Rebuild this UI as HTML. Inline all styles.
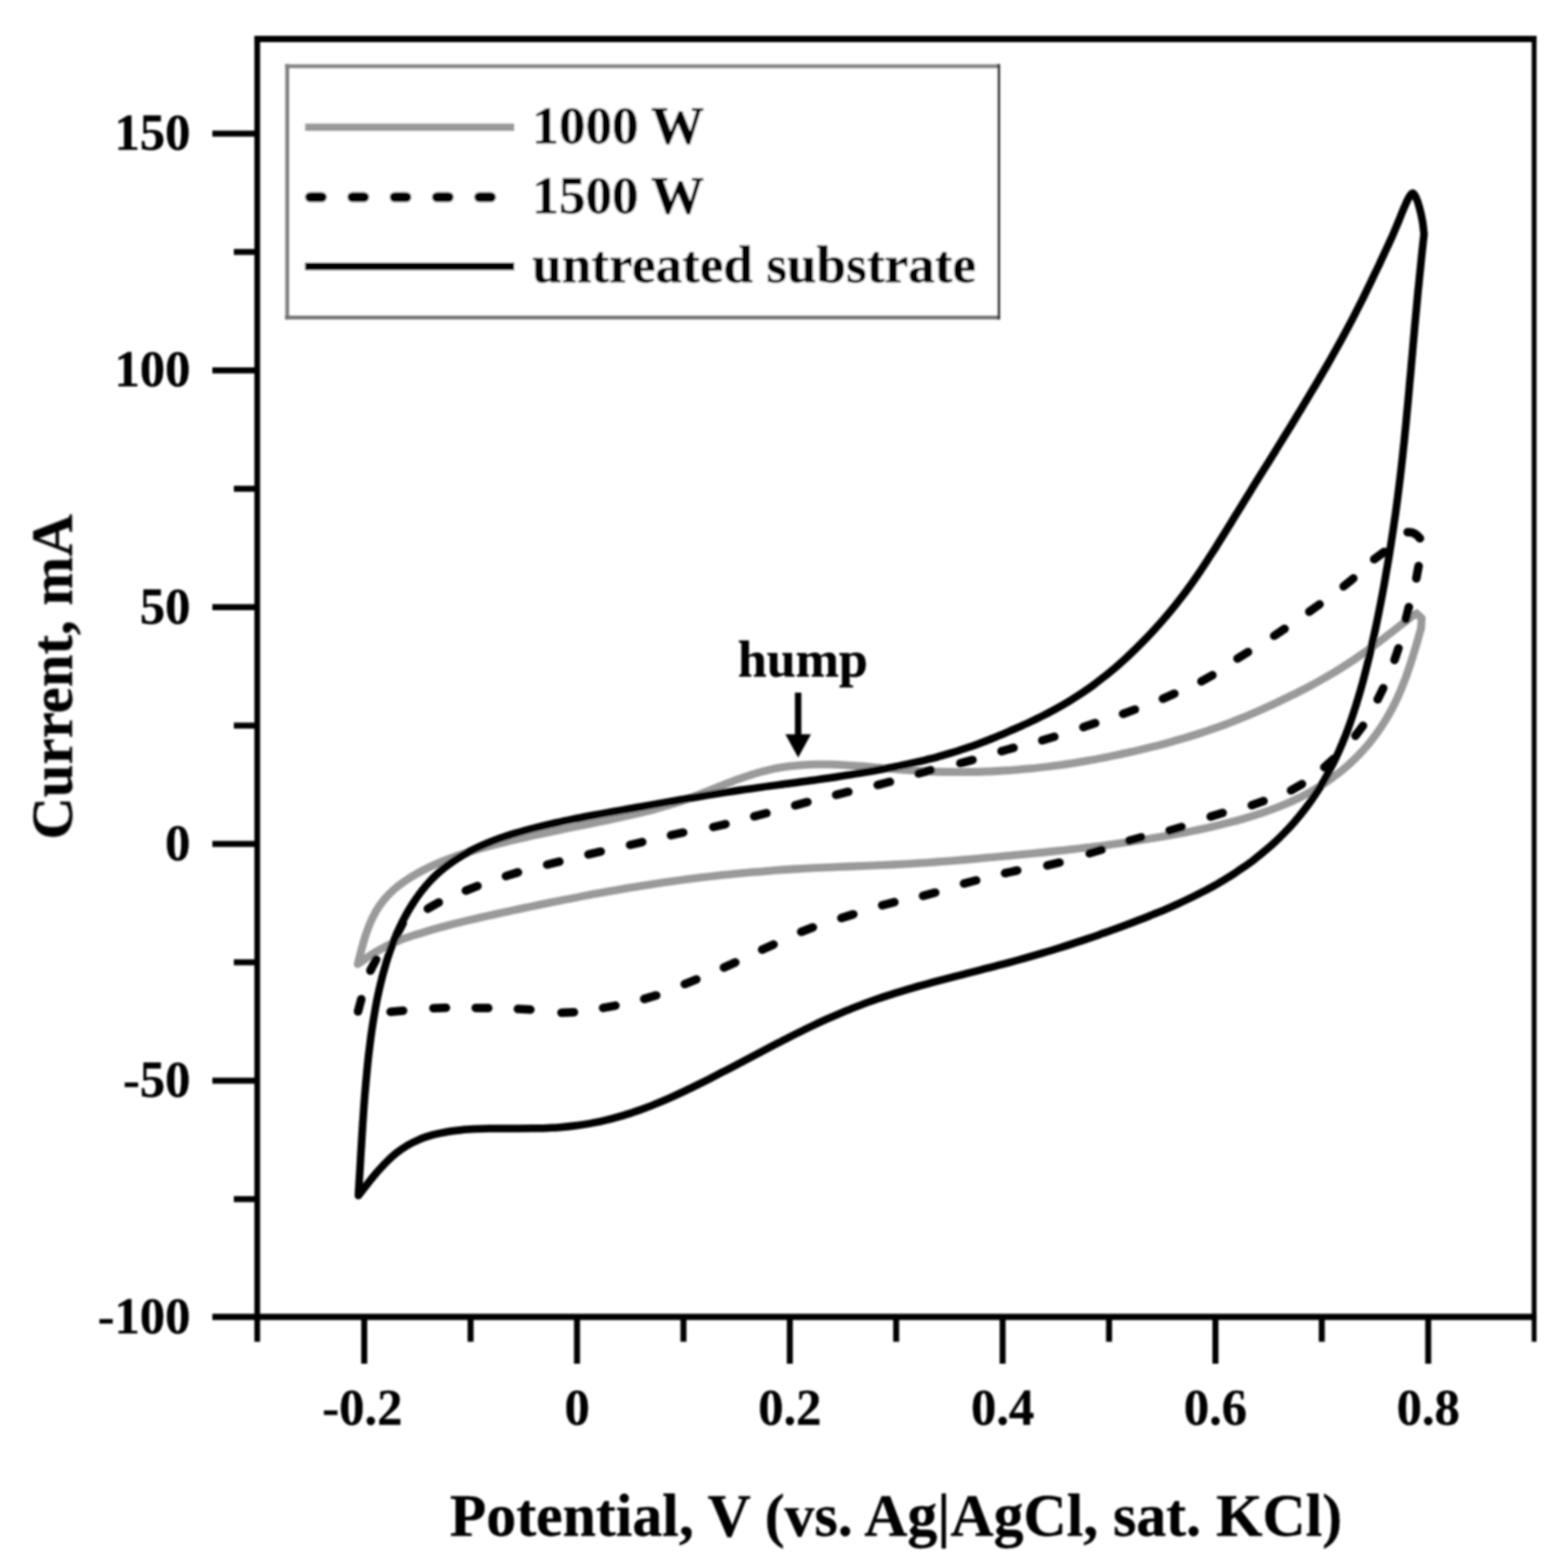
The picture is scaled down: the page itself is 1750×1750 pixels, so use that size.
<!DOCTYPE html>
<html lang="en">
<head>
<meta charset="utf-8">
<title>Cyclic voltammograms</title>
<style>
html,body{margin:0;padding:0;background:#fff;}
body{width:1750px;height:1750px;overflow:hidden;}
svg{display:block;}
text{font-family:"Liberation Serif","Times New Roman",serif;font-weight:bold;fill:#000;stroke:#000;stroke-width:0.35px;stroke-linejoin:round;}
</style>
</head>
<body>
<svg xmlns="http://www.w3.org/2000/svg" width="1750" height="1750" viewBox="0 0 1750 1750">
<defs><filter id="soft" x="0" y="0" width="1750" height="1750" filterUnits="userSpaceOnUse"><feGaussianBlur stdDeviation="1.0"/></filter></defs>
<rect x="0" y="0" width="1750" height="1750" fill="#fff"/>
<g filter="url(#soft)">
<!-- axes frame and ticks -->
<g fill="none" stroke="#000" stroke-width="6.7" stroke-linecap="butt">
<path d="M287.1,40.0 V1497.5" stroke-width="6.4"/>
<path d="M1712.2,40.0 V1497.5" stroke-width="5.4"/>
<path d="M283.9,43.5 H1714.9" stroke-width="7.0"/>
<path d="M237.0,1469.7 H1714.9" stroke-width="6.9"/>
<path d="M237.0,149.1 H287.1"/>
<path d="M237.0,413.4 H287.1"/>
<path d="M237.0,677.6 H287.1"/>
<path d="M237.0,941.9 H287.1"/>
<path d="M237.0,1206.2 H287.1"/>
<path d="M261.0,281.2 H287.1"/>
<path d="M261.0,545.5 H287.1"/>
<path d="M261.0,809.8 H287.1"/>
<path d="M261.0,1074.0 H287.1"/>
<path d="M261.0,1338.3 H287.1"/>
<path d="M406.5,1469.7 V1522.0"/>
<path d="M644.0,1469.7 V1522.0"/>
<path d="M881.5,1469.7 V1522.0"/>
<path d="M1119.0,1469.7 V1522.0"/>
<path d="M1356.5,1469.7 V1522.0"/>
<path d="M1594.0,1469.7 V1522.0"/>
<path d="M525.2,1469.7 V1497.5"/>
<path d="M762.8,1469.7 V1497.5"/>
<path d="M1000.2,1469.7 V1497.5"/>
<path d="M1237.8,1469.7 V1497.5"/>
<path d="M1475.2,1469.7 V1497.5"/>
</g>
<!-- tick labels -->
<g font-size="56.5" text-anchor="end">
<text x="212.6" y="167.1">150</text>
<text x="212.6" y="431.4">100</text>
<text x="212.6" y="695.6">50</text>
<text x="212.6" y="959.9">0</text>
<text x="212.6" y="1224.2">-50</text>
<text x="212.6" y="1488.4">-100</text>
</g>
<g font-size="56.5" text-anchor="middle">
<text x="404.5" y="1589.5">-0.2</text>
<text x="644.0" y="1589.5">0</text>
<text x="881.5" y="1589.5">0.2</text>
<text x="1119.0" y="1589.5">0.4</text>
<text x="1356.5" y="1589.5">0.6</text>
<text x="1594.0" y="1589.5">0.8</text>
</g>
<!-- axis titles -->
<text x="1000.0" y="1714.0" font-size="66.7" text-anchor="middle">Potential, V (vs. Ag|AgCl, sat. KCl)</text>
<text transform="translate(80.2,755.5) rotate(-90)" font-size="65.6" text-anchor="middle">Current, mA</text>
<!-- data curves -->
<g fill="none" stroke-linecap="round" stroke-linejoin="round">
<path stroke="#9a9a9a" stroke-width="8.8" d="M399.3,1076.0 C400.0,1073.4 401.9,1065.5 403.3,1060.4 C404.7,1055.2 406.1,1050.0 407.7,1044.9 C409.4,1039.9 411.1,1034.9 413.1,1030.1 C415.2,1025.3 417.5,1020.6 420.1,1016.2 C422.8,1011.8 425.7,1007.5 429.0,1003.6 C432.2,999.7 435.8,996.1 439.7,992.7 C443.5,989.3 447.6,986.2 451.9,983.3 C456.2,980.3 460.6,977.6 465.2,975.1 C469.7,972.5 474.4,970.1 479.2,967.8 C483.9,965.6 488.8,963.4 493.7,961.4 C498.7,959.4 503.7,957.5 508.7,955.7 C513.8,953.9 518.9,952.2 524.0,950.6 C529.2,949.0 534.4,947.5 539.6,946.1 C544.7,944.6 550.0,943.2 555.2,941.9 C560.4,940.5 565.7,939.3 570.9,938.0 C576.2,936.8 581.4,935.5 586.7,934.4 C591.9,933.2 597.2,932.0 602.4,930.9 C607.7,929.8 613.0,928.7 618.2,927.6 C623.5,926.5 628.7,925.4 634.0,924.3 C639.2,923.2 644.5,922.2 649.7,921.1 C655.0,920.1 660.2,919.0 665.4,917.9 C670.7,916.8 675.9,915.8 681.1,914.6 C686.4,913.5 691.6,912.4 696.8,911.3 C702.0,910.1 707.2,908.9 712.4,907.7 C717.5,906.5 722.7,905.2 727.9,903.9 C733.0,902.5 738.1,901.1 743.2,899.6 C748.3,898.1 753.4,896.5 758.5,894.8 C763.5,893.1 768.5,891.3 773.5,889.4 C778.5,887.5 783.4,885.5 788.4,883.5 C793.3,881.6 798.3,879.5 803.2,877.6 C808.2,875.6 813.2,873.7 818.1,871.8 C823.1,870.0 828.1,868.1 833.1,866.4 C838.2,864.8 843.2,863.2 848.3,861.8 C853.4,860.4 858.5,859.1 863.7,858.0 C868.8,856.9 874.0,856.1 879.3,855.4 C884.5,854.6 889.8,854.1 895.0,853.8 C900.3,853.4 905.6,853.2 910.9,853.1 C916.2,853.0 921.5,853.1 926.8,853.2 C932.1,853.3 937.4,853.6 942.7,853.9 C948.1,854.2 953.4,854.6 958.7,855.0 C964.1,855.4 969.4,855.8 974.7,856.3 C980.1,856.7 985.4,857.2 990.7,857.7 C996.1,858.2 1001.4,858.6 1006.7,859.0 C1012.1,859.4 1017.4,859.8 1022.8,860.2 C1028.1,860.5 1033.4,860.8 1038.8,861.0 C1044.1,861.2 1049.5,861.4 1054.8,861.5 C1060.2,861.6 1065.5,861.6 1070.8,861.6 C1076.2,861.6 1081.5,861.6 1086.9,861.5 C1092.2,861.4 1097.5,861.2 1102.9,861.0 C1108.2,860.8 1113.5,860.5 1118.9,860.2 C1124.2,859.9 1129.5,859.5 1134.8,859.1 C1140.2,858.7 1145.5,858.2 1150.8,857.7 C1156.1,857.2 1161.4,856.6 1166.7,856.0 C1172.0,855.3 1177.3,854.6 1182.6,853.9 C1187.9,853.2 1193.2,852.4 1198.5,851.6 C1203.7,850.7 1209.0,849.8 1214.3,848.9 C1219.5,848.0 1224.8,847.0 1230.0,846.0 C1235.3,845.0 1240.5,843.9 1245.7,842.8 C1251.0,841.7 1256.2,840.6 1261.4,839.4 C1266.6,838.3 1271.8,837.0 1277.0,835.8 C1282.2,834.5 1287.4,833.2 1292.6,831.9 C1297.8,830.6 1302.9,829.2 1308.1,827.7 C1313.2,826.3 1318.3,824.8 1323.5,823.3 C1328.6,821.8 1333.7,820.2 1338.7,818.5 C1343.8,816.9 1348.9,815.2 1353.9,813.4 C1359.0,811.7 1364.0,809.8 1369.0,808.0 C1374.0,806.1 1378.9,804.1 1383.9,802.2 C1388.9,800.2 1393.8,798.1 1398.7,796.0 C1403.6,793.9 1408.5,791.8 1413.4,789.6 C1418.2,787.4 1423.1,785.1 1427.9,782.8 C1432.7,780.5 1437.5,778.2 1442.3,775.8 C1447.1,773.5 1451.9,771.0 1456.6,768.6 C1461.3,766.1 1466.0,763.5 1470.7,761.0 C1475.3,758.4 1480.0,755.7 1484.6,753.0 C1489.2,750.3 1493.7,747.5 1498.2,744.7 C1502.7,741.9 1507.2,739.0 1511.6,736.0 C1516.0,733.0 1520.4,730.0 1524.7,726.9 C1529.1,723.8 1533.4,720.6 1537.7,717.4 C1542.0,714.3 1546.2,711.0 1550.4,707.8 C1554.7,704.5 1558.9,701.2 1563.1,697.9 C1567.3,694.6 1573.6,689.7 1575.7,688.0 L1581.0,684.6 L1586.7,690.0 L1585.9,701.4 C1585.2,704.0 1583.0,711.8 1581.5,716.9 C1580.0,722.1 1578.5,727.2 1576.9,732.3 C1575.3,737.4 1573.7,742.6 1571.9,747.6 C1570.2,752.7 1568.4,757.7 1566.4,762.6 C1564.5,767.6 1562.5,772.5 1560.3,777.3 C1558.1,782.1 1555.8,786.9 1553.3,791.6 C1550.8,796.2 1548.2,800.8 1545.4,805.3 C1542.6,809.8 1539.7,814.2 1536.6,818.5 C1533.5,822.7 1530.3,826.9 1526.9,831.0 C1523.5,835.0 1519.9,838.9 1516.3,842.7 C1512.6,846.5 1508.8,850.1 1504.9,853.7 C1500.9,857.2 1496.9,860.6 1492.7,863.8 C1488.5,867.0 1484.2,870.2 1479.9,873.1 C1475.5,876.1 1471.0,878.9 1466.4,881.6 C1461.9,884.3 1457.2,886.8 1452.4,889.2 C1447.7,891.6 1442.9,893.8 1438.0,896.0 C1433.2,898.1 1428.2,900.1 1423.2,902.0 C1418.3,903.9 1413.2,905.7 1408.2,907.4 C1403.1,909.1 1398.0,910.7 1392.9,912.2 C1387.8,913.8 1382.6,915.2 1377.5,916.6 C1372.3,918.0 1367.1,919.3 1361.9,920.6 C1356.7,921.8 1351.5,923.0 1346.3,924.2 C1341.1,925.3 1335.8,926.4 1330.6,927.5 C1325.4,928.5 1320.1,929.6 1314.9,930.5 C1309.6,931.5 1304.4,932.5 1299.1,933.4 C1293.9,934.3 1288.6,935.2 1283.3,936.0 C1278.1,936.9 1272.8,937.7 1267.5,938.5 C1262.3,939.3 1257.0,940.1 1251.7,940.9 C1246.4,941.6 1241.2,942.4 1235.9,943.1 C1230.6,943.8 1225.3,944.5 1220.0,945.1 C1214.7,945.8 1209.5,946.4 1204.2,947.0 C1198.9,947.6 1193.6,948.2 1188.3,948.8 C1183.0,949.4 1177.7,949.9 1172.4,950.5 C1167.1,951.0 1161.8,951.5 1156.5,952.1 C1151.2,952.6 1145.9,953.1 1140.6,953.6 C1135.2,954.1 1129.9,954.7 1124.6,955.2 C1119.3,955.7 1114.0,956.2 1108.7,956.7 C1103.4,957.1 1098.1,957.6 1092.8,958.1 C1087.5,958.6 1082.2,959.0 1076.9,959.5 C1071.5,959.9 1066.2,960.4 1060.9,960.8 C1055.6,961.2 1050.3,961.6 1045.0,962.0 C1039.7,962.4 1034.3,962.7 1029.0,963.1 C1023.7,963.4 1018.4,963.8 1013.1,964.1 C1007.7,964.4 1002.4,964.7 997.1,965.0 C991.8,965.2 986.4,965.5 981.1,965.7 C975.8,966.0 970.5,966.2 965.1,966.4 C959.8,966.6 954.5,966.8 949.2,967.0 C943.8,967.2 938.5,967.4 933.2,967.6 C927.9,967.9 922.6,968.1 917.2,968.3 C911.9,968.6 906.6,968.8 901.3,969.1 C895.9,969.4 890.6,969.7 885.3,970.0 C880.0,970.3 874.7,970.7 869.4,971.0 C864.1,971.4 858.7,971.8 853.4,972.3 C848.1,972.7 842.8,973.1 837.5,973.6 C832.2,974.1 826.9,974.6 821.6,975.1 C816.3,975.6 811.0,976.1 805.7,976.7 C800.4,977.3 795.1,977.9 789.8,978.5 C784.5,979.1 779.2,979.8 773.9,980.4 C768.6,981.1 763.4,981.8 758.1,982.5 C752.8,983.2 747.5,984.0 742.2,984.7 C737.0,985.5 731.7,986.3 726.4,987.1 C721.2,987.9 715.9,988.7 710.6,989.6 C705.4,990.4 700.1,991.3 694.9,992.2 C689.6,993.1 684.4,994.0 679.1,994.9 C673.9,995.8 668.6,996.8 663.4,997.7 C658.1,998.7 652.9,999.7 647.7,1000.7 C642.4,1001.7 637.2,1002.7 632.0,1003.8 C626.7,1004.8 621.5,1005.9 616.3,1006.9 C611.1,1008.0 605.8,1009.1 600.6,1010.1 C595.4,1011.2 590.1,1012.3 584.9,1013.4 C579.7,1014.5 574.5,1015.6 569.2,1016.7 C564.0,1017.8 558.8,1019.0 553.5,1020.1 C548.3,1021.2 543.1,1022.4 537.9,1023.6 C532.7,1024.8 527.5,1026.0 522.3,1027.2 C517.1,1028.4 511.9,1029.7 506.8,1031.0 C501.6,1032.4 496.5,1033.7 491.4,1035.1 C486.2,1036.5 481.1,1038.0 476.1,1039.5 C471.0,1041.0 465.9,1042.5 460.9,1044.2 C455.9,1045.8 450.9,1047.5 446.1,1049.4 C441.2,1051.4 436.4,1053.4 431.8,1055.7 C427.2,1058.0 422.7,1060.5 418.4,1063.1 C414.0,1065.8 408.7,1069.4 405.6,1071.6 C402.4,1073.7 400.3,1075.3 399.3,1076.0"/>
<path stroke="#000" stroke-width="9.5" d="M399.6,1128.8 L403.2,1115.2 M413.4,1083.2 L419.8,1070.8 M443.1,1042.7 L449.5,1030.3 M477.5,1014.2 L489.7,1007.2 M519.9,994.0 L532.9,988.8 M564.7,977.8 L578.1,973.6 M610.7,965.0 L624.3,961.6 M656.8,953.6 L670.4,950.4 M703.2,943.0 L716.8,939.8 M748.9,932.2 L762.5,929.2 M796.1,923.0 L809.7,919.8 M841.8,911.1 L855.4,907.5 M887.5,898.8 L901.1,895.2 M933.2,887.1 L946.8,883.7 M979.6,876.1 L993.2,872.5 M1025.2,863.2 L1038.8,859.6 M1071.8,851.8 L1085.4,848.2 M1117.8,838.4 L1131.2,834.6 M1163.3,826.3 L1176.7,822.3 M1209.1,811.5 L1222.3,807.1 M1253.4,796.7 L1266.6,791.9 M1297.9,779.8 L1310.7,774.2 M1340.9,760.4 L1353.1,753.6 M1381.1,735.1 L1392.9,727.7 M1422.1,709.6 L1433.7,701.8 M1461.3,682.7 L1472.7,674.5 M1499.6,654.4 L1510.4,645.6 M1533.7,624.1 L1544.9,615.9 M1571.0,594.0 Q1579.0,593.0 1584.8,600.8 M1583.3,631.7 L1580.7,645.5 M1572.4,677.5 L1569.0,691.1 M1560.8,723.4 L1556.4,736.6 M1543.8,768.0 L1537.6,780.6 M1521.2,810.0 L1512.8,821.2 M1488.4,847.0 L1478.0,856.2 M1453.1,875.1 L1440.9,882.1 M1410.2,894.1 L1397.0,898.7 M1364.6,907.2 L1351.2,911.4 M1318.7,923.0 L1305.3,927.0 M1273.7,934.5 L1260.3,938.3 M1229.5,948.3 L1216.1,952.3 M1182.5,962.7 L1168.9,965.9 M1135.3,971.5 L1121.7,974.5 M1089.5,982.5 L1075.9,986.1 M1043.8,996.2 L1030.2,999.8 M998.2,1006.8 L984.6,1010.4 M952.4,1020.4 L939.0,1024.6 M907.2,1035.0 L894.2,1040.0 M863.4,1054.1 L850.6,1059.9 M820.7,1074.1 L807.9,1079.9 M777.2,1093.1 L764.2,1098.3 M732.4,1110.9 L719.0,1114.9 M686.9,1122.3 L673.1,1124.9 M640.6,1129.8 L626.6,1130.2 M592.0,1126.8 L578.0,1126.0 M544.9,1125.1 L530.9,1124.9 M497.7,1124.7 L483.7,1125.3 M449.9,1127.9 L435.9,1129.3"/>
<path stroke="#000" stroke-width="8.5" d="M400.0,1334.3 C401.6,1332.2 406.6,1325.8 409.9,1321.6 C413.2,1317.4 416.5,1313.1 420.0,1309.1 C423.5,1305.1 427.0,1301.1 430.7,1297.4 C434.4,1293.7 438.3,1290.1 442.3,1286.9 C446.4,1283.7 450.7,1280.7 455.1,1278.1 C459.5,1275.5 464.2,1273.3 468.9,1271.3 C473.7,1269.4 478.6,1267.8 483.6,1266.4 C488.6,1265.1 493.7,1264.1 498.8,1263.2 C504.0,1262.4 509.2,1261.8 514.4,1261.2 C519.7,1260.7 525.0,1260.4 530.3,1260.1 C535.6,1259.9 541.0,1259.7 546.3,1259.6 C551.7,1259.5 557.1,1259.5 562.5,1259.5 C567.9,1259.4 573.3,1259.5 578.7,1259.5 C584.0,1259.4 589.4,1259.4 594.8,1259.3 C600.2,1259.3 605.6,1259.1 610.9,1258.9 C616.3,1258.7 621.6,1258.4 626.9,1257.9 C632.3,1257.5 637.6,1257.0 642.8,1256.3 C648.1,1255.6 653.4,1254.8 658.6,1253.9 C663.8,1252.9 669.0,1251.9 674.2,1250.7 C679.3,1249.5 684.5,1248.2 689.6,1246.7 C694.7,1245.3 699.7,1243.7 704.8,1242.1 C709.8,1240.4 714.8,1238.6 719.8,1236.8 C724.8,1234.9 729.7,1233.0 734.6,1230.9 C739.5,1228.9 744.4,1226.8 749.3,1224.6 C754.2,1222.4 759.0,1220.2 763.8,1217.9 C768.7,1215.6 773.5,1213.2 778.2,1210.9 C783.0,1208.5 787.8,1206.1 792.6,1203.7 C797.3,1201.2 802.1,1198.8 806.8,1196.3 C811.6,1193.9 816.3,1191.4 821.0,1188.9 C825.8,1186.4 830.5,1183.9 835.2,1181.4 C840.0,1178.9 844.7,1176.4 849.4,1173.9 C854.1,1171.4 858.9,1169.0 863.6,1166.5 C868.3,1164.0 873.1,1161.6 877.8,1159.2 C882.6,1156.7 887.4,1154.3 892.1,1152.0 C896.9,1149.6 901.7,1147.3 906.5,1145.0 C911.3,1142.7 916.2,1140.4 921.0,1138.2 C925.9,1136.0 930.7,1133.9 935.6,1131.8 C940.5,1129.7 945.4,1127.6 950.4,1125.6 C955.3,1123.7 960.3,1121.8 965.3,1119.9 C970.3,1118.1 975.3,1116.3 980.3,1114.6 C985.3,1112.8 990.4,1111.2 995.5,1109.6 C1000.6,1107.9 1005.7,1106.4 1010.8,1104.9 C1015.9,1103.3 1021.0,1101.9 1026.1,1100.4 C1031.3,1099.0 1036.4,1097.6 1041.6,1096.2 C1046.7,1094.8 1051.9,1093.5 1057.0,1092.1 C1062.2,1090.8 1067.4,1089.5 1072.6,1088.2 C1077.7,1086.8 1082.9,1085.5 1088.1,1084.2 C1093.2,1082.9 1098.4,1081.6 1103.6,1080.2 C1108.7,1078.9 1113.9,1077.6 1119.1,1076.2 C1124.2,1074.8 1129.4,1073.4 1134.5,1072.0 C1139.7,1070.6 1144.8,1069.2 1149.9,1067.7 C1155.0,1066.2 1160.2,1064.7 1165.3,1063.2 C1170.4,1061.7 1175.5,1060.1 1180.6,1058.5 C1185.7,1056.9 1190.7,1055.3 1195.8,1053.6 C1200.9,1052.0 1205.9,1050.3 1211.0,1048.6 C1216.1,1046.9 1221.1,1045.2 1226.2,1043.4 C1231.2,1041.7 1236.2,1039.9 1241.2,1038.1 C1246.3,1036.3 1251.3,1034.4 1256.3,1032.5 C1261.3,1030.7 1266.3,1028.8 1271.3,1026.8 C1276.3,1024.9 1281.2,1022.9 1286.2,1020.9 C1291.1,1018.9 1296.1,1016.9 1301.0,1014.8 C1305.9,1012.7 1310.8,1010.5 1315.6,1008.3 C1320.5,1006.1 1325.3,1003.8 1330.1,1001.5 C1334.9,999.1 1339.7,996.7 1344.4,994.3 C1349.2,991.8 1353.8,989.2 1358.5,986.6 C1363.1,983.9 1367.7,981.2 1372.2,978.4 C1376.7,975.5 1381.2,972.6 1385.5,969.6 C1389.9,966.6 1394.2,963.5 1398.5,960.3 C1402.7,957.0 1406.9,953.7 1410.9,950.3 C1415.0,946.9 1419.0,943.4 1422.9,939.8 C1426.8,936.2 1430.6,932.4 1434.3,928.6 C1438.0,924.8 1441.6,920.9 1445.0,916.9 C1448.5,912.9 1451.9,908.8 1455.1,904.6 C1458.4,900.4 1461.5,896.2 1464.5,891.8 C1467.6,887.4 1470.5,883.0 1473.3,878.5 C1476.0,874.0 1478.7,869.4 1481.3,864.7 C1483.8,860.1 1486.3,855.3 1488.6,850.5 C1491.0,845.8 1493.2,840.9 1495.3,836.1 C1497.5,831.2 1499.5,826.2 1501.5,821.3 C1503.4,816.3 1505.3,811.3 1507.0,806.3 C1508.8,801.3 1510.5,796.2 1512.1,791.1 C1513.8,786.0 1515.3,780.9 1516.8,775.8 C1518.3,770.6 1519.8,765.5 1521.2,760.3 C1522.6,755.2 1523.9,750.0 1525.2,744.8 C1526.5,739.6 1527.8,734.4 1529.0,729.2 C1530.2,724.0 1531.4,718.8 1532.5,713.6 C1533.7,708.4 1534.8,703.2 1535.9,698.0 C1537.0,692.7 1538.1,687.5 1539.1,682.3 C1540.2,677.0 1541.2,671.8 1542.2,666.5 C1543.2,661.3 1544.1,656.0 1545.1,650.8 C1546.0,645.5 1546.9,640.3 1547.8,635.0 C1548.8,629.8 1549.6,624.5 1550.5,619.2 C1551.3,614.0 1552.2,608.7 1553.0,603.4 C1553.8,598.2 1554.6,592.9 1555.4,587.6 C1556.2,582.3 1556.9,577.1 1557.7,571.8 C1558.4,566.5 1559.1,561.2 1559.8,555.9 C1560.5,550.6 1561.1,545.3 1561.8,540.1 C1562.4,534.8 1563.1,529.5 1563.7,524.2 C1564.3,518.9 1564.9,513.6 1565.5,508.3 C1566.0,503.0 1566.6,497.7 1567.2,492.4 C1567.7,487.1 1568.2,481.7 1568.8,476.4 C1569.3,471.1 1569.8,465.8 1570.3,460.5 C1570.8,455.2 1571.3,449.9 1571.8,444.6 C1572.3,439.3 1572.8,434.0 1573.2,428.6 C1573.7,423.3 1574.2,418.0 1574.7,412.7 C1575.1,407.4 1575.6,402.1 1576.1,396.8 C1576.6,391.5 1577.0,386.1 1577.5,380.8 C1578.0,375.5 1578.4,370.2 1578.9,364.9 C1579.4,359.6 1579.9,354.3 1580.4,349.0 C1580.9,343.6 1581.4,338.3 1581.9,333.0 C1582.4,327.7 1582.9,322.4 1583.5,317.1 C1584.0,311.8 1584.5,306.5 1585.1,301.2 C1585.6,295.9 1586.2,290.6 1586.7,285.3 C1587.3,280.0 1588.0,273.3 1588.4,269.4 C1588.9,265.4 1589.2,262.7 1589.3,261.4 C1589.0,259.0 1588.5,252.1 1587.6,247.0 C1586.7,241.9 1585.2,235.3 1584.0,231.0 C1582.8,226.7 1581.8,223.6 1580.6,221.0 C1579.4,218.4 1578.0,215.7 1576.6,215.6 C1575.2,215.5 1574.0,217.8 1572.4,220.5 C1570.8,223.2 1569.2,227.0 1567.2,231.5 C1565.2,236.0 1563.0,242.0 1560.7,247.5 C1558.4,253.0 1554.8,261.5 1553.6,264.3 C1552.5,266.7 1549.1,274.0 1546.9,278.8 C1544.7,283.6 1542.4,288.4 1540.2,293.3 C1537.9,298.1 1535.6,302.9 1533.3,307.7 C1531.1,312.5 1528.8,317.3 1526.4,322.1 C1524.1,326.9 1521.8,331.7 1519.4,336.4 C1517.0,341.2 1514.6,345.9 1512.2,350.6 C1509.8,355.4 1507.3,360.1 1504.8,364.8 C1502.3,369.5 1499.8,374.2 1497.3,378.8 C1494.7,383.5 1492.1,388.2 1489.5,392.8 C1486.9,397.4 1484.3,402.1 1481.7,406.7 C1479.0,411.3 1476.3,415.9 1473.6,420.5 C1471.0,425.1 1468.3,429.7 1465.5,434.2 C1462.8,438.8 1460.1,443.4 1457.3,447.9 C1454.6,452.5 1451.9,457.1 1449.1,461.6 C1446.3,466.2 1443.5,470.7 1440.8,475.2 C1438.0,479.8 1435.2,484.3 1432.4,488.8 C1429.6,493.4 1426.8,497.9 1424.0,502.4 C1421.2,506.9 1418.4,511.4 1415.6,516.0 C1412.8,520.5 1409.9,525.0 1407.1,529.5 C1404.3,534.0 1401.5,538.6 1398.7,543.1 C1395.9,547.6 1393.1,552.2 1390.3,556.7 C1387.5,561.2 1384.8,565.8 1382.0,570.3 C1379.2,574.8 1376.4,579.4 1373.6,583.9 C1370.8,588.5 1368.0,593.0 1365.2,597.5 C1362.4,602.0 1359.6,606.6 1356.8,611.1 C1353.9,615.6 1351.0,620.0 1348.1,624.5 C1345.2,629.0 1342.3,633.4 1339.3,637.8 C1336.3,642.2 1333.3,646.6 1330.2,650.9 C1327.1,655.2 1324.0,659.5 1320.8,663.8 C1317.6,668.0 1314.3,672.2 1311.0,676.3 C1307.6,680.5 1304.3,684.6 1300.8,688.6 C1297.4,692.7 1293.8,696.7 1290.3,700.6 C1286.7,704.5 1283.1,708.4 1279.4,712.3 C1275.7,716.1 1271.9,719.9 1268.1,723.6 C1264.3,727.3 1260.5,731.0 1256.6,734.6 C1252.7,738.2 1248.7,741.7 1244.7,745.2 C1240.6,748.6 1236.5,752.0 1232.4,755.3 C1228.2,758.6 1224.0,761.8 1219.8,765.0 C1215.5,768.1 1211.1,771.1 1206.7,774.1 C1202.3,777.0 1197.9,779.8 1193.3,782.6 C1188.8,785.3 1184.2,788.0 1179.6,790.5 C1174.9,793.1 1170.2,795.6 1165.5,798.0 C1160.8,800.4 1156.0,802.7 1151.2,805.0 C1146.4,807.3 1141.5,809.5 1136.7,811.7 C1131.8,813.9 1126.9,816.0 1122.0,818.1 C1117.1,820.2 1112.2,822.2 1107.3,824.2 C1102.3,826.2 1097.4,828.1 1092.4,829.9 C1087.4,831.8 1082.4,833.5 1077.3,835.2 C1072.3,836.9 1067.3,838.6 1062.2,840.1 C1057.1,841.7 1052.0,843.1 1046.9,844.6 C1041.8,846.0 1036.6,847.3 1031.5,848.6 C1026.3,849.8 1021.1,851.0 1015.9,852.2 C1010.7,853.4 1005.5,854.4 1000.3,855.5 C995.1,856.6 989.9,857.5 984.6,858.5 C979.4,859.5 974.2,860.4 968.9,861.3 C963.7,862.2 958.4,863.1 953.2,863.9 C947.9,864.8 942.6,865.6 937.4,866.4 C932.1,867.2 926.9,868.0 921.6,868.7 C916.3,869.5 911.0,870.3 905.8,871.0 C900.5,871.7 895.2,872.4 889.9,873.2 C884.7,873.9 879.4,874.6 874.1,875.3 C868.8,876.0 863.6,876.7 858.3,877.4 C853.0,878.1 847.8,878.8 842.5,879.6 C837.2,880.3 831.9,881.0 826.7,881.8 C821.4,882.6 816.2,883.3 810.9,884.1 C805.7,884.9 800.4,885.8 795.2,886.6 C789.9,887.5 784.7,888.3 779.4,889.2 C774.2,890.1 768.9,891.0 763.7,891.9 C758.5,892.8 753.2,893.7 748.0,894.7 C742.7,895.6 737.5,896.5 732.3,897.4 C727.0,898.4 721.8,899.3 716.5,900.2 C711.3,901.1 706.0,902.0 700.8,903.0 C695.5,903.9 690.3,904.8 685.0,905.7 C679.8,906.7 674.5,907.6 669.3,908.6 C664.0,909.6 658.8,910.5 653.5,911.5 C648.3,912.6 643.0,913.6 637.8,914.6 C632.5,915.7 627.3,916.8 622.1,918.0 C616.8,919.1 611.6,920.3 606.4,921.6 C601.2,922.8 596.0,924.1 590.8,925.5 C585.6,926.9 580.5,928.3 575.4,929.9 C570.2,931.4 565.2,933.1 560.1,934.8 C555.1,936.6 550.1,938.5 545.2,940.5 C540.3,942.5 535.5,944.6 530.8,946.9 C526.0,949.2 521.4,951.6 516.8,954.3 C512.3,956.9 507.9,959.7 503.7,962.7 C499.4,965.7 495.3,968.9 491.4,972.3 C487.5,975.7 483.8,979.4 480.2,983.1 C476.6,986.9 473.3,990.9 470.1,995.0 C466.9,999.2 463.9,1003.5 461.1,1007.9 C458.2,1012.3 455.5,1016.8 453.0,1021.4 C450.5,1026.0 448.1,1030.8 445.8,1035.6 C443.6,1040.4 441.5,1045.3 439.5,1050.2 C437.6,1055.1 435.7,1060.2 434.0,1065.2 C432.3,1070.3 430.7,1075.4 429.3,1080.5 C427.8,1085.6 426.4,1090.8 425.2,1096.0 C423.9,1101.2 422.7,1106.4 421.6,1111.7 C420.5,1116.9 419.5,1122.2 418.6,1127.4 C417.7,1132.7 416.8,1138.0 416.0,1143.2 C415.2,1148.5 414.4,1153.8 413.7,1159.1 C413.0,1164.4 412.4,1169.7 411.7,1175.0 C411.1,1180.3 410.5,1185.6 410.0,1190.9 C409.5,1196.2 409.0,1201.5 408.5,1206.8 C408.0,1212.1 407.6,1217.4 407.1,1222.8 C406.7,1228.1 406.3,1233.4 405.9,1238.7 C405.6,1244.0 405.2,1249.3 404.8,1254.6 C404.5,1259.9 404.2,1265.2 403.8,1270.6 C403.5,1275.9 403.2,1281.2 402.8,1286.5 C402.5,1291.8 402.2,1297.1 401.9,1302.4 C401.6,1307.7 401.3,1313.1 400.9,1318.4 C400.6,1323.7 400.2,1331.6 400.0,1334.3 Z"/>
</g>
<!-- annotation -->
<text x="896.0" y="755.0" font-size="58" text-anchor="middle">hump</text>
<path d="M890.8,773.0 V825.0" stroke="#000" stroke-width="7.2" fill="none"/>
<path d="M876.5,819.5 L905.1,819.5 L890.8,845.5 Z" fill="#000"/>
<!-- legend -->
<rect x="320.7" y="74.0" width="793.9" height="280.3" fill="#fff"/>
<g fill="none" stroke-linecap="butt">
<path d="M318.2,74.0 H1116.2" stroke="#858585" stroke-width="4.6"/>
<path d="M320.7,71.5 V356.6" stroke="#828282" stroke-width="4.6"/>
<path d="M318.2,354.3 H1116.2" stroke="#747474" stroke-width="4.4"/>
<path d="M1114.6,71.5 V356.6" stroke="#3a3a3a" stroke-width="3.2"/>
</g>
<g fill="none">
<path stroke="#9a9a9a" stroke-width="8.4" d="M340.5,142.0 H574.0"/>
<path stroke="#000" stroke-width="11.2" stroke-linecap="round" stroke-dasharray="13 34.2" d="M346.1,220.0 H560.0"/>
<path stroke="#000" stroke-width="8.6" d="M340.5,297.3 H574.0"/>
</g>
<g font-size="59.4">
<text x="594.0" y="160.3">1000 W</text>
<text x="594.0" y="238.3">1500 W</text>
<text x="594.0" y="315.4">untreated substrate</text>
</g>
</g>
</svg>
</body>
</html>
